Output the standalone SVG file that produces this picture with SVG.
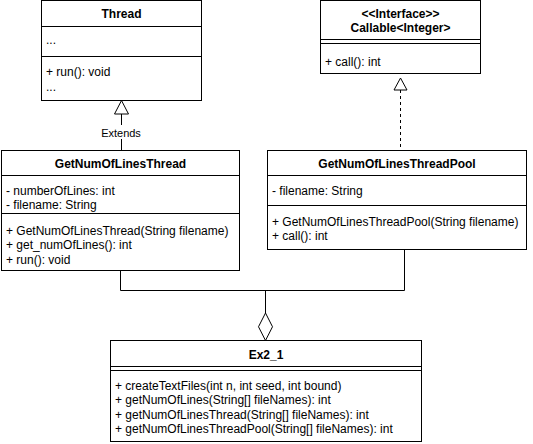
<svg xmlns="http://www.w3.org/2000/svg" width="533" height="444" viewBox="0 0 533 444">
<style>
text{font-family:"Liberation Sans",Arial,Helvetica,sans-serif;font-size:12px;fill:#000}
.t{font-weight:bold;text-anchor:middle}
.box{fill:#fff;stroke:#000;stroke-width:1}
.sep{stroke:#000;stroke-width:1;fill:none}
.edge{stroke:#000;stroke-width:1;fill:none}
.dash{stroke-dasharray:3 3}
.head{fill:#fff;stroke:#000;stroke-width:1}
.lbl{font-size:11px;text-anchor:middle}
</style>
<rect width="533" height="444" fill="#fff"/>
<g id="connectors">
<line class="edge" x1="121.5" y1="114" x2="121.5" y2="150.5"/>
<polygon class="head" points="121.5,100.5 128.5,114 114.5,114"/>
<rect x="101" y="125" width="41" height="14" fill="#fff"/>
<text class="lbl" x="121" y="137">Extends</text>
<line class="edge dash" x1="400.5" y1="90" x2="400.5" y2="150.5"/>
<polygon class="head" points="400.5,78 407,90 394,90"/>
<polyline class="edge" points="120.5,270.5 120.5,290.5 404.5,290.5 404.5,249.5"/>
<line class="edge" x1="265.5" y1="290.5" x2="265.5" y2="313"/>
<polygon class="head" points="265.5,313 272.5,326.75 265.5,340.5 258.5,326.75"/>
</g>
<g id="Thread">
<rect class="box" x="41.5" y="0.5" width="160" height="100"/>
<line class="sep" x1="41.5" y1="26.5" x2="201.5" y2="26.5"/>
<line class="sep" x1="41.5" y1="56.5" x2="201.5" y2="56.5"/>
<text class="t" x="121.5" y="18">Thread</text>
<text x="46" y="44">...</text>
<text x="46" y="76">+ run(): void</text>
<text x="46" y="91">...</text>
</g>
<g id="Callable">
<rect class="box" x="320.5" y="0.5" width="160" height="73"/>
<line class="sep" x1="320.5" y1="39.5" x2="480.5" y2="39.5"/>
<line class="sep" x1="320.5" y1="43.5" x2="480.5" y2="43.5"/>
<text class="t" x="400.5" y="18">&lt;&lt;Interface&gt;&gt;</text>
<text class="t" x="400.5" y="32">Callable&lt;Integer&gt;</text>
<text x="325" y="66">+ call(): int</text>
</g>
<g id="GetNumOfLinesThread">
<rect class="box" x="1.5" y="150.5" width="238" height="120"/>
<line class="sep" x1="1.5" y1="175.5" x2="239.5" y2="175.5"/>
<line class="sep" x1="1.5" y1="213.5" x2="239.5" y2="213.5"/>
<text class="t" x="120.5" y="167.5">GetNumOfLinesThread</text>
<text x="6" y="195">- numberOfLines: int</text>
<text x="6" y="209.4">- filename: String</text>
<text x="6" y="235">+ GetNumOfLinesThread(String filename)</text>
<text x="6" y="249.4">+ get_numOfLines(): int</text>
<text x="6" y="263.8">+ run(): void</text>
</g>
<g id="GetNumOfLinesThreadPool">
<rect class="box" x="267.5" y="150.5" width="259" height="99"/>
<line class="sep" x1="267.5" y1="175.5" x2="526.5" y2="175.5"/>
<line class="sep" x1="267.5" y1="205.5" x2="526.5" y2="205.5"/>
<text class="t" x="397" y="167.5">GetNumOfLinesThreadPool</text>
<text x="272" y="195">- filename: String</text>
<text x="272" y="226">+ GetNumOfLinesThreadPool(String filename)</text>
<text x="272" y="240.4">+ call(): int</text>
</g>
<g id="Ex2_1">
<rect class="box" x="110.5" y="340.5" width="311" height="101"/>
<line class="sep" x1="110.5" y1="366.5" x2="421.5" y2="366.5"/>
<line class="sep" x1="110.5" y1="370.5" x2="421.5" y2="370.5"/>
<text class="t" x="266" y="358.5">Ex2_1</text>
<text x="115" y="390">+ createTextFiles(int n, int seed, int bound)</text>
<text x="115" y="404.4">+ getNumOfLines(String[] fileNames): int</text>
<text x="115" y="418.8">+ getNumOfLinesThread(String[] fileNames): int</text>
<text x="115" y="433.2">+ getNumOfLinesThreadPool(String[] fileNames): int</text>
</g>
</svg>
